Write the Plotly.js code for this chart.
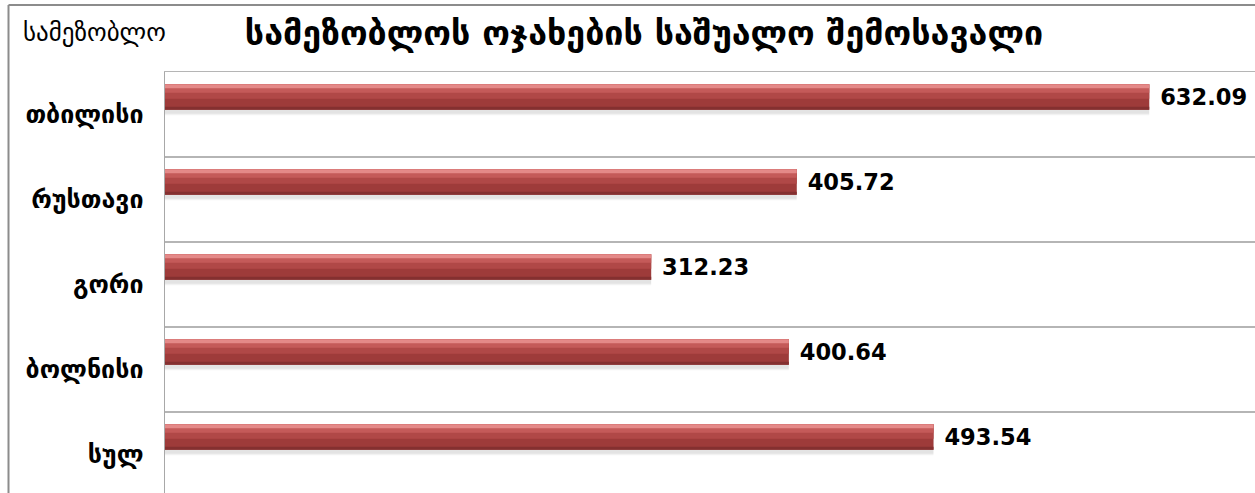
<!DOCTYPE html>
<html>
<head>
<meta charset="utf-8">
<script src="https://cdn.plot.ly/plotly-3.0.1.min.js"></script>
<style>html,body{margin:0;padding:0;background:#fff;}#chart{width:1255px;height:493px;}</style>
</head>
<body>
<div id="chart"></div>
<script>
// Data
var categories = ["თბილისი", "რუსთავი", "გორი", "ბოლნისი", "სულ"];
var incomeValues = [632.09, 405.72, 312.23, 400.64, 493.54];
var chartTitle = "სამეზობლოს ოჯახების საშუალო შემოსავალი";
var axisLabel = "სამეზობლო";

var geoFont = "DejaVu Sans, Noto Sans, sans-serif";

function layer(offset, width, color, extra) {
  var t = {
    type: 'bar', orientation: 'h',
    x: incomeValues, y: categories,
    offset: offset, width: width,
    marker: {color: color, line: {width: 0}},
    hoverinfo: 'skip', showlegend: false
  };
  if (extra) for (var k in extra) t[k] = extra[k];
  return t;
}

var traces = [
  // soft shadow below bars
  layer(-0.30, 0.31, 'rgba(0,0,0,0.05)'),
  layer(-0.32, 0.31, 'rgba(0,0,0,0.06)'),
  // main body
  layer(-0.355, 0.30, '#9E3B3A'),
  // mid-upper lighter gradient
  layer(-0.355, 0.17, '#B04847'),
  layer(-0.355, 0.10, '#C45A59'),
  // top highlight
  layer(-0.355, 0.045, '#E48988'),
  // bottom dark band
  layer(-0.09, 0.035, '#843030'),
  // labels
  layer(-0.355, 0.30, 'rgba(0,0,0,0)', {
    text: incomeValues.map(function(v){return '\u00a0' + v.toFixed(2);}),
    textposition: 'outside',
    cliponaxis: false,
    textfont: {family: 'DejaVu Sans, sans-serif', size: 23, color: '#000', weight: 'bold'}
  })
];

var layout = {
  width: 1255, height: 493,
  margin: {l: 165, r: 0, t: 72, b: 0, pad: 0},
  paper_bgcolor: '#fff', plot_bgcolor: '#fff',
  barmode: 'overlay',
  showlegend: false,
  title: {
    text: chartTitle,
    font: {family: geoFont, size: 34, color: '#000', weight: 'bold'},
    x: 644/1255, xanchor: 'center', xref: 'container',
    y: 1 - 33/493, yanchor: 'middle', yref: 'container'
  },
  xaxis: {
    range: [0, 700], showgrid: false, zeroline: false, side: 'top',
    showticklabels: false, ticks: '', showline: true,
    linecolor: '#B5B5B5', linewidth: 1.5, fixedrange: true
  },
  yaxis: {
    type: 'category', categoryarray: categories, categoryorder: 'array',
    range: [4.453, -0.5], autorange: false,
    tickson: 'boundaries', ticks: '',
    showgrid: true, gridcolor: '#B5B5B5', gridwidth: 1.5,
    showline: true, linecolor: '#A8A8A8', linewidth: 1.5,
    zeroline: false,
    ticklabelstandoff: 15,
    tickfont: {family: geoFont, size: 25, color: '#000', weight: 'bold'},
    fixedrange: true
  },
  annotations: [{
    text: axisLabel, xref: 'paper', yref: 'paper',
    x: (21 - 165) / 1090, xanchor: 'left',
    y: 1 + (72 - 33) / 421, yanchor: 'middle',
    showarrow: false,
    font: {family: geoFont, size: 25, color: '#000'}
  }],
  shapes: [
    {type: 'line', xref: 'paper', yref: 'paper',
     x0: (8.5 - 165) / 1090, x1: (8.5 - 165) / 1090,
     y0: 1 + (72 - 5) / 421, y1: 1 - (493 - 72 + 5) / 421,
     line: {color: '#8C8C8C', width: 2}},
    {type: 'line', xref: 'paper', yref: 'paper',
     x0: (8.5 - 165) / 1090, x1: 1.01,
     y0: 1 + (72 - 5) / 421, y1: 1 + (72 - 5) / 421,
     line: {color: '#8C8C8C', width: 2}}
  ]
};

Plotly.newPlot('chart', traces, layout, {displayModeBar: false, staticPlot: true});
</script>
</body>
</html>
